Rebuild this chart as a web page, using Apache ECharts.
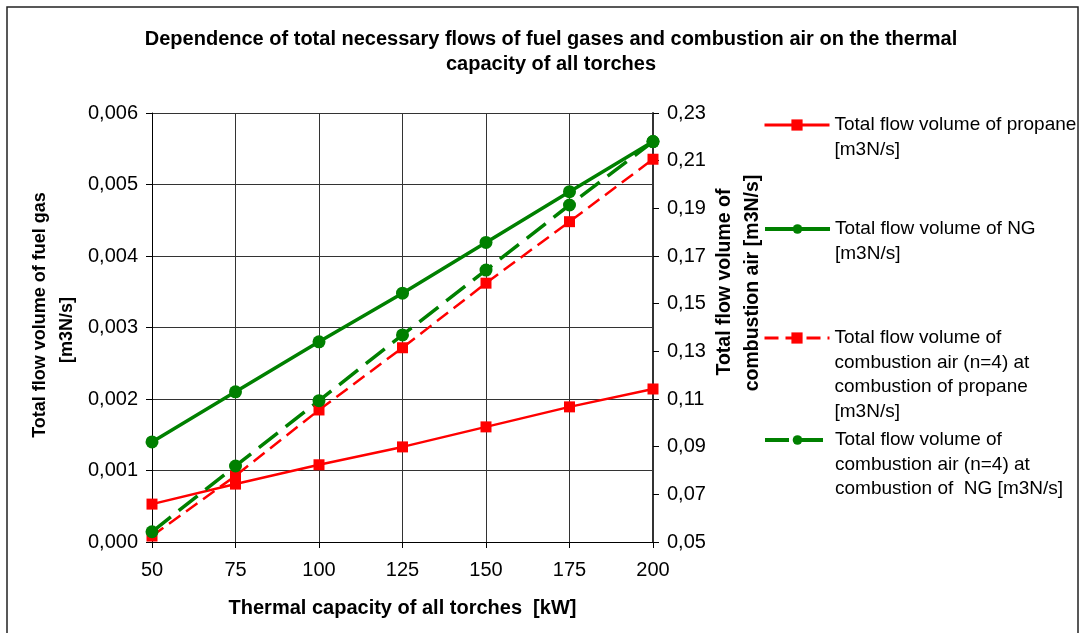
<!DOCTYPE html>
<html><head><meta charset="utf-8">
<script src="https://cdn.jsdelivr.net/npm/echarts@6/dist/echarts.min.js"></script>
<style>html,body{margin:0;padding:0;background:#fff}#c{width:1083px;height:633px}</style>
</head><body><div id="c"></div>
<script>
const capacity = [50, 75, 100, 125, 150, 175, 200];
const propaneFlow = [0.00053, 0.00081, 0.00108, 0.00133, 0.00161, 0.00189, 0.00214];
const ngFlow = [0.0014, 0.0021, 0.0028, 0.00348, 0.00419, 0.0049, 0.0056];
const airPropane = [0.0525, 0.0778, 0.1054, 0.1315, 0.1586, 0.1844, 0.2106];
const airNG = [0.0543, 0.0819, 0.1093, 0.1369, 0.1641, 0.1914, 0.2180];
const xTicks = [50, 75, 100, 125, 150, 175, 200];
const leftTicks = [0, 0.001, 0.002, 0.003, 0.004, 0.005, 0.006];
const rightTicks = [0.05, 0.07, 0.09, 0.11, 0.13, 0.15, 0.17, 0.19, 0.21, 0.23];
const seriesNames = [
  'Total flow volume of propane [m3N/s]',
  'Total flow volume of NG [m3N/s]',
  'Total flow volume of combustion air (n=4) at combustion of propane [m3N/s]',
  'Total flow volume of combustion air (n=4) at combustion of NG [m3N/s]'
];
const legendLines = [
  ['Total flow volume of propane', '[m3N/s]'],
  ['Total flow volume of NG', '[m3N/s]'],
  ['Total flow volume of', 'combustion air (n=4) at', 'combustion of propane', '[m3N/s]'],
  ['Total flow volume of', 'combustion air (n=4) at', 'combustion of  NG [m3N/s]']
];
const FONT = "'Liberation Sans', Arial, sans-serif";
const RED = '#ff0000', GREEN = '#008000';
const LH = 24.5;
const legendCenters = [125, 229, 338, 440];
const legendIconH = [14, 12, 14, 12];
const legendLineW = [3, 4, 3, 4];

function pairs(vals) { return capacity.map((c, i) => [c, vals[i]]); }

const legends = legendLines.map((lines, i) => {
  const n = lines.length;
  const blanks = n - 1;
  const total = n + blanks;
  const text = '\n'.repeat(blanks) + lines.join('\n');
  return {
    data: [seriesNames[i]],
    left: 763,
    top: legendCenters[i] - total * LH / 2,
    padding: 0,
    itemWidth: 65,
    itemHeight: legendIconH[i],
    selectedMode: false,
    lineStyle: { width: legendLineW[i] },
    formatter: () => text,
    textStyle: { fontFamily: FONT, fontSize: 19, lineHeight: LH, color: '#000' }
  };
});

const chart = echarts.init(document.getElementById('c'), null, { renderer: 'canvas' });
chart.setOption({
  backgroundColor: '#fff',
  animation: false,
  title: {
    text: 'Dependence of total necessary flows of fuel gases and combustion air on the thermal\ncapacity of all torches',
    left: 546, textAlign: 'center', top: 22,
    textStyle: { fontFamily: FONT, fontSize: 20, fontWeight: 'bold', color: '#000', lineHeight: 25 }
  },
  legend: legends,
  grid: { left: 152, right: 430, top: 113, bottom: 91, containLabel: false },
  xAxis: {
    type: 'value', min: xTicks[0], max: xTicks[xTicks.length - 1], interval: 25,
    name: 'Thermal capacity of all torches  [kW]', nameLocation: 'middle', nameGap: 56,
    nameTextStyle: { fontFamily: FONT, fontSize: 20, fontWeight: 'bold', color: '#000' },
    axisLine: { lineStyle: { color: '#000', width: 1 } },
    axisTick: { show: true, length: 6, lineStyle: { color: '#000' } },
    axisLabel: { fontFamily: FONT, fontSize: 20, color: '#000', margin: 18 },
    splitLine: { show: true, lineStyle: { color: '#333', width: 1 } }
  },
  yAxis: [{
    type: 'value', min: leftTicks[0], max: leftTicks[leftTicks.length - 1], interval: 0.001,
    axisLine: { show: true, lineStyle: { color: '#000', width: 1 } },
    axisTick: { show: true, length: 6, lineStyle: { color: '#000' } },
    axisLabel: { fontFamily: FONT, fontSize: 20, color: '#000', margin: 14,
      formatter: v => v.toFixed(3).replace('.', ',') },
    splitLine: { show: true, lineStyle: { color: '#333', width: 1 } }
  }, {
    type: 'value', position: 'right', min: rightTicks[0], max: rightTicks[rightTicks.length - 1], interval: 0.02,
    axisLine: { show: true, lineStyle: { color: '#333', width: 2 } },
    axisTick: { show: true, length: 6, lineStyle: { color: '#000' } },
    axisLabel: { fontFamily: FONT, fontSize: 20, color: '#000', margin: 14,
      formatter: v => v.toFixed(2).replace('.', ',') },
    splitLine: { show: false }
  }],
  series: [{
    name: seriesNames[0], type: 'line', yAxisIndex: 0, data: pairs(propaneFlow),
    symbol: 'rect', symbolSize: 11, lineStyle: { color: RED, width: 2.5 }, itemStyle: { color: RED }
  }, {
    name: seriesNames[1], type: 'line', yAxisIndex: 0, data: pairs(ngFlow),
    symbol: 'circle', symbolSize: 13, lineStyle: { color: GREEN, width: 3.5 }, itemStyle: { color: GREEN }
  }, {
    name: seriesNames[2], type: 'line', yAxisIndex: 1, data: pairs(airPropane),
    symbol: 'rect', symbolSize: 11, lineStyle: { color: RED, width: 2.5, type: [14, 7] }, itemStyle: { color: RED }
  }, {
    name: seriesNames[3], type: 'line', yAxisIndex: 1, data: pairs(airNG),
    symbol: 'circle', symbolSize: 13, lineStyle: { color: GREEN, width: 3.5, type: [24, 10] }, itemStyle: { color: GREEN }
  }],
  graphic: [
    { type: 'rect', shape: { x: 7, y: 7, width: 1071, height: 640 }, style: { fill: 'none', stroke: '#222', lineWidth: 1.5 }, silent: true },
    { type: 'text', x: 40, y: 315, rotation: Math.PI / 2,
      style: { text: 'Total flow volume of fuel gas', fontFamily: FONT, fontSize: 18, fontWeight: 'bold', fill: '#000', align: 'center', verticalAlign: 'middle' } },
    { type: 'text', x: 67, y: 330, rotation: Math.PI / 2,
      style: { text: '[m3N/s]', fontFamily: FONT, fontSize: 18, fontWeight: 'bold', fill: '#000', align: 'center', verticalAlign: 'middle' } },
    { type: 'text', x: 725, y: 282, rotation: Math.PI / 2,
      style: { text: 'Total flow volume of', fontFamily: FONT, fontSize: 19.5, fontWeight: 'bold', fill: '#000', align: 'center', verticalAlign: 'middle' } },
    { type: 'text', x: 753, y: 283, rotation: Math.PI / 2,
      style: { text: 'combustion air [m3N/s]', fontFamily: FONT, fontSize: 19.5, fontWeight: 'bold', fill: '#000', align: 'center', verticalAlign: 'middle' } }
  ]
});
</script></body></html>
